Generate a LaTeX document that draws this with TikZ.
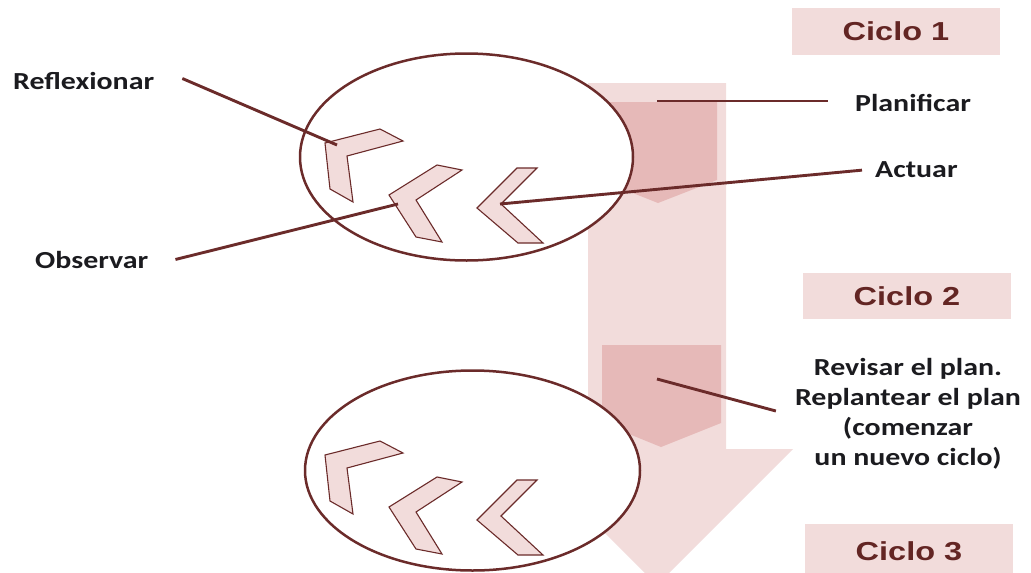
\documentclass[tikz,border=0pt]{standalone}
\usepackage{fontspec}
\usetikzlibrary{shapes.geometric}
\newfontfamily\labfont[FakeStretch=1.22]{Carlito}
\newfontfamily\cicfont[FakeStretch=1.25]{Liberation Sans}
\definecolor{pinkA}{HTML}{F2DCDB}
\definecolor{pinkB}{HTML}{E6B9B8}
\definecolor{maroon}{HTML}{6B2B2A}
\definecolor{cictext}{HTML}{632523}
\definecolor{labtext}{HTML}{1B1B1F}
\tikzset{
  conn/.style={draw=maroon, line width=2.9pt},
  ring/.style={ellipse, draw=maroon, line width=2.5pt, fill=white, inner sep=0pt},
  chev/.style={fill=pinkA, draw=maroon, line width=1.1pt, line join=miter},
  lab/.style={inner sep=0pt, text=labtext, font=\labfont\bfseries\fontsize{24.5}{30}\selectfont},
  cicbox/.style={fill=pinkA, inner sep=0pt, minimum width=208pt, text=cictext,
                 font=\cicfont\bfseries\fontsize{26}{30}\selectfont},
  chevs/.pic={
    \filldraw[chev] (325,143) -- (380,129) -- (403,141) -- (347,156) -- (353,202) -- (330,189) -- cycle;
    \filldraw[chev] (389,195) -- (437,165) -- (462,170) -- (416,200) -- (442,242) -- (416,237) -- cycle;
    \filldraw[chev] (477,208) -- (517,168) -- (537,168) -- (501,204) -- (543,243) -- (518,243) -- cycle;
    \coordinate (-a) at (337,145);
    \coordinate (-b) at (398,204);
    \coordinate (-c) at (500,204);
  }
}
\begin{document}
\begin{tikzpicture}[x=1pt,y=-1pt]
\useasboundingbox (0,0) rectangle (1031,573);
\clip (0,0) rectangle (1031,573);
% big downward arrow
\fill[pinkA] (588,83) -- (726,83) -- (726,449) -- (793,449) -- (657,585) -- (521,449) -- (588,449) -- cycle;
\fill[pinkB] (600,102) -- (717,102) -- (717,180) -- (658,203) -- (600,180) -- cycle;
\fill[pinkB] (602,345) -- (721,345) -- (721,423) -- (661,447) -- (602,423) -- cycle;
% cycles
\node[ring, minimum width=333pt, minimum height=207pt] (circ1) at (466.5,157) {};
\node[ring, minimum width=335pt, minimum height=200pt] (circ2) at (472.5,470.5) {};
\pic (p1) at (0,0) {chevs};
\pic (p2) at (0,312) {chevs};
% cycle boxes
\node[cicbox, minimum height=47pt] (cic1) at (896,31.5) {Ciclo 1};
\node[cicbox, minimum height=46pt] (cic2) at (907,296) {Ciclo 2};
\node[cicbox, minimum height=54pt] (cic3) at (909,551) {Ciclo 3};
% labels
\node[lab, anchor=base west] (refl) at (13,89) {Reflexionar};
\node[lab, anchor=base west] (obs) at (35,268) {Observar};
\node[lab, anchor=base west] (plan) at (855,111.5) {Planificar};
\node[lab, anchor=base west] (act) at (875,177) {Actuar};
\node[lab, align=center] (rev) at (908,414) {Revisar el plan.\\Replantear el plan\\(comenzar\\un nuevo ciclo)};
% connectors
\coordinate (planS) at (657,101);
\coordinate (revS) at (657,379);
\draw[conn] ([xshift=28pt,yshift=2pt]refl.east) -- (p1-a);
\draw[conn] ([xshift=27pt]obs.east) -- (p1-b);
\draw[conn] (planS) -- ([xshift=-27pt]planS -| plan.west);
\draw[conn] ([xshift=-13pt,yshift=-1pt]act.west) -- (p1-c);
\draw[conn] (revS) -- ([xshift=-19pt,yshift=3pt]rev.west);
\end{tikzpicture}
\end{document}
